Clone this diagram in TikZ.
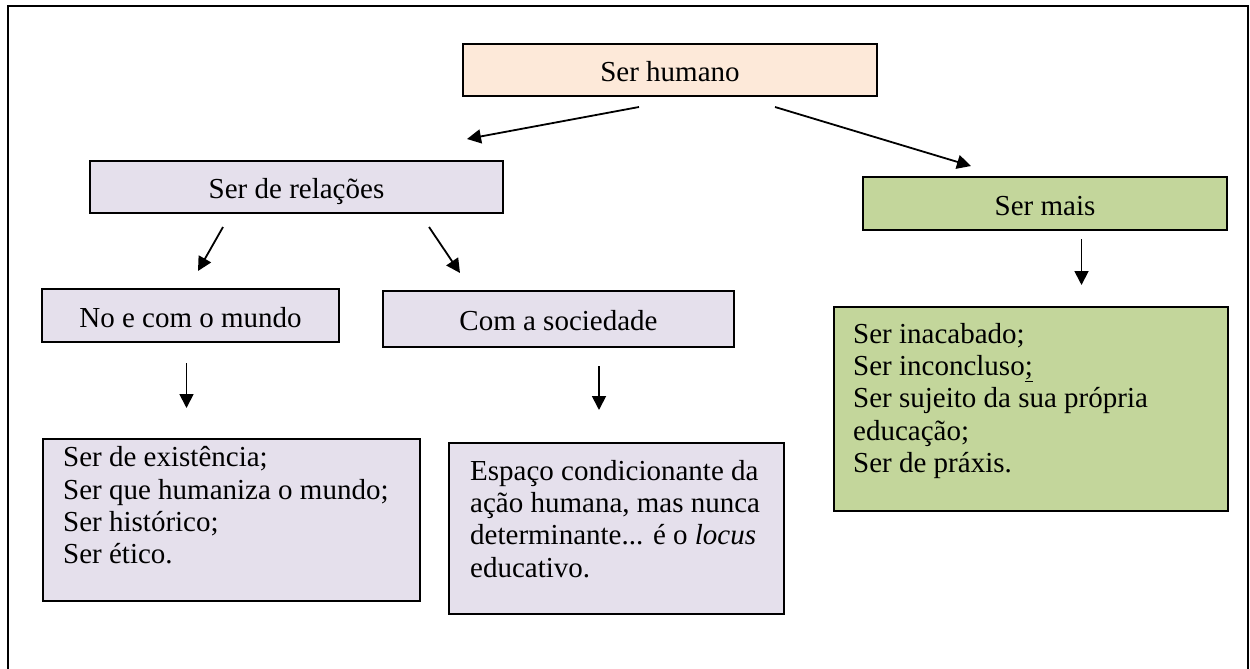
\documentclass[tikz,border=0pt]{standalone}
\usepackage{fontspec}
\setmainfont{Liberation Serif}
\usetikzlibrary{arrows.meta}
\definecolor{peach}{HTML}{FDE9D9}
\definecolor{lav}{HTML}{E5E0EC}
\definecolor{grn}{HTML}{C3D69B}
\begin{document}
\begin{tikzpicture}[x=1pt,y=-1pt,
  every node/.style={font=\fontsize{29}{32.3}\selectfont},
  lbox/.style={draw, line width=1.5pt, inner sep=0pt},
  one/.style={text height=23pt, text depth=0pt},
  arr/.style={line width=1.8pt, -{Triangle[length=14pt,width=14pt]}},
  txt/.style={inner sep=0pt, align=left, anchor=north west}]
\useasboundingbox (0,0) rectangle (1250,669);
\draw[line width=2pt] (8,675) -- (8,6) -- (1248,6) -- (1248,675);

% single-line boxes
\node[lbox, one, fill=peach, minimum width=414pt, minimum height=52pt] (sh) at (670,70) {Ser humano};
\node[lbox, one, fill=lav, minimum width=413pt, minimum height=52pt] (rel) at (296.5,187) {Ser de relações};
\node[lbox, one, fill=grn, minimum width=364pt, minimum height=53pt] (mais) at (1045,203.5) {Ser mais};
\node[lbox, one, fill=lav, minimum width=297pt, minimum height=53pt] (mundo) at (190.5,315.5) {No e com o mundo};
\node[lbox, one, fill=lav, minimum width=351pt, minimum height=56pt] (soc) at (558.5,319) {Com a sociedade};

% multi-line boxes
\node[lbox, fill=lav, minimum width=377pt, minimum height=162pt, anchor=north west] (ex) at (42,438) {};
\node[txt] (extxt) at (63,444) {\strut Ser de existência;\\Ser que humaniza o mundo;\\Ser histórico;\\Ser ético.};

\node[lbox, fill=lav, minimum width=335pt, minimum height=171pt, anchor=north west] (esp) at (448,442) {};
\node[txt] (esptxt) at (470,457.4) {\strut Espaço condicionante da\\ação humana, mas nunca\\determinante... é o \textit{locus}\\educativo.};

\node[lbox, fill=grn, minimum width=394pt, minimum height=204pt, anchor=north west] (ina) at (833,306) {};
\node[txt] (inatxt) at (853,320.4) {\strut Ser inacabado;\\Ser inconcluso\underline{;}\\Ser sujeito da sua própria\\educação;\\Ser de práxis.};

% arrow end points
\coordinate (a1s) at (639,107);   \coordinate (a1e) at (467,139);
\coordinate (a2s) at (775,107);   \coordinate (a2e) at (971,166);
\coordinate (a3s) at (223,227);   \coordinate (a3e) at (198,271);
\coordinate (a4s) at (429,227);   \coordinate (a4e) at (460,273);
\coordinate (a5s) at (1081.5,239); \coordinate (a5e) at (1081.5,285);
\coordinate (a6s) at (186.5,363); \coordinate (a6e) at (186.5,408);
\coordinate (a7s) at (599,366);   \coordinate (a7e) at (599,410);

\draw[arr] (a1s) -- (a1e);
\draw[arr] (a2s) -- (a2e);
\draw[arr] (a3s) -- (a3e);
\draw[arr] (a4s) -- (a4e);
\draw[arr] (a5s) -- (a5e);
\draw[arr] (a6s) -- (a6e);
\draw[arr] (a7s) -- (a7e);
\end{tikzpicture}
\end{document}
